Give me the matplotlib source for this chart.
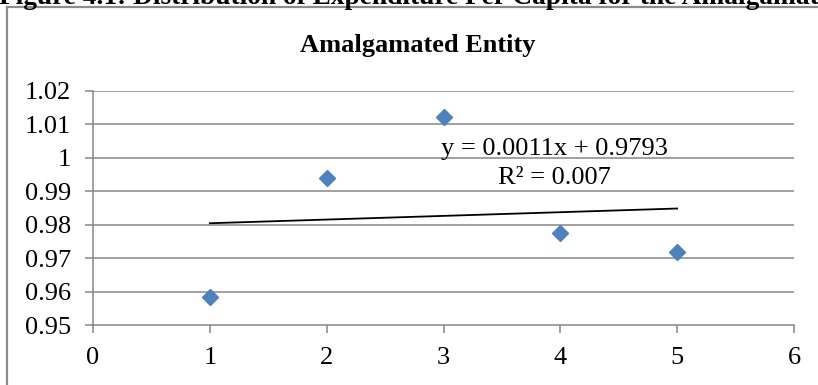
import matplotlib
matplotlib.use("Agg")
import matplotlib.pyplot as plt
from matplotlib.lines import Line2D
import numpy as np

plt.rcParams['font.family'] = ['Liberation Serif', 'DejaVu Serif']

# Data
years = [1, 2, 3, 4, 5]
ratio = [0.9583, 0.9939, 1.0120, 0.9776, 0.9718]
slope, intercept, r2 = 0.0011, 0.9793, 0.007
x_ticks = [0, 1, 2, 3, 4, 5, 6]
y_ticks = [0.95, 0.96, 0.97, 0.98, 0.99, 1.00, 1.01, 1.02]
y_tick_labels = ['0.95', '0.96', '0.97', '0.98', '0.99', '1', '1.01', '1.02']

W, H = 818, 385
fig = plt.figure(figsize=(W / 100, H / 100), dpi=100)

# Caption line (partly above the page edge)
fig.text(-0.001, 1 - 3.5 / H,
         'Figure 4.1: Distribution of Expenditure Per Capita for the Amalgamated Entity',
         fontsize=19.7, fontweight='bold', ha='left', va='baseline')

# Chart frame
fig.add_artist(Line2D([7 / W, 7 / W], [0, 1 - 7 / H], color='#8c8c8c', lw=1.6))
fig.add_artist(Line2D([7 / W, 1.0], [1 - 7 / H, 1 - 7 / H], color='#8c8c8c', lw=1.6))

ax = fig.add_axes([93 / W, 60 / H, 701 / W, 234.3 / H])
grid_c = '#868686'

ax.set_xlim(0, 6)
ax.set_ylim(0.95, 1.02)
ax.set_xticks(x_ticks)
ax.set_yticks(y_ticks)
ax.set_yticklabels(y_tick_labels)
for y in y_ticks[1:]:
    ax.axhline(y, color=grid_c, lw=1.1, zorder=1)

for s in ['top', 'right']:
    ax.spines[s].set_visible(False)
for s in ['left', 'bottom']:
    ax.spines[s].set_color(grid_c)
    ax.spines[s].set_linewidth(1.1)
ax.tick_params(axis='both', direction='out', length=6, width=1.1, color=grid_c,
               labelsize=19, labelcolor='black')
ax.tick_params(axis='y', pad=10)
ax.tick_params(axis='x', pad=10)

# Trend line
tx = np.array([years[0], years[-1]])
ax.plot(tx, slope * tx + intercept, color='black', lw=1.3, zorder=2)

# Points
ax.plot(years, ratio, linestyle='none', marker='D', markersize=8.5,
        color='#4f81bd', markeredgecolor='#4f81bd', zorder=3, clip_on=False)

ax.text(3.946, 1.0007, f'y = {slope:.4f}x + {intercept:.4f}', ha='center',
        va='baseline', fontsize=19)
ax.text(3.946, 0.9921, f'R² = {r2:.3f}', ha='center', va='baseline', fontsize=19)

fig.text(417.5 / W, 1 - 52 / H, 'Amalgamated Entity', fontsize=19, fontweight='bold',
         ha='center', va='baseline')

fig.savefig('out.png', dpi=100)
